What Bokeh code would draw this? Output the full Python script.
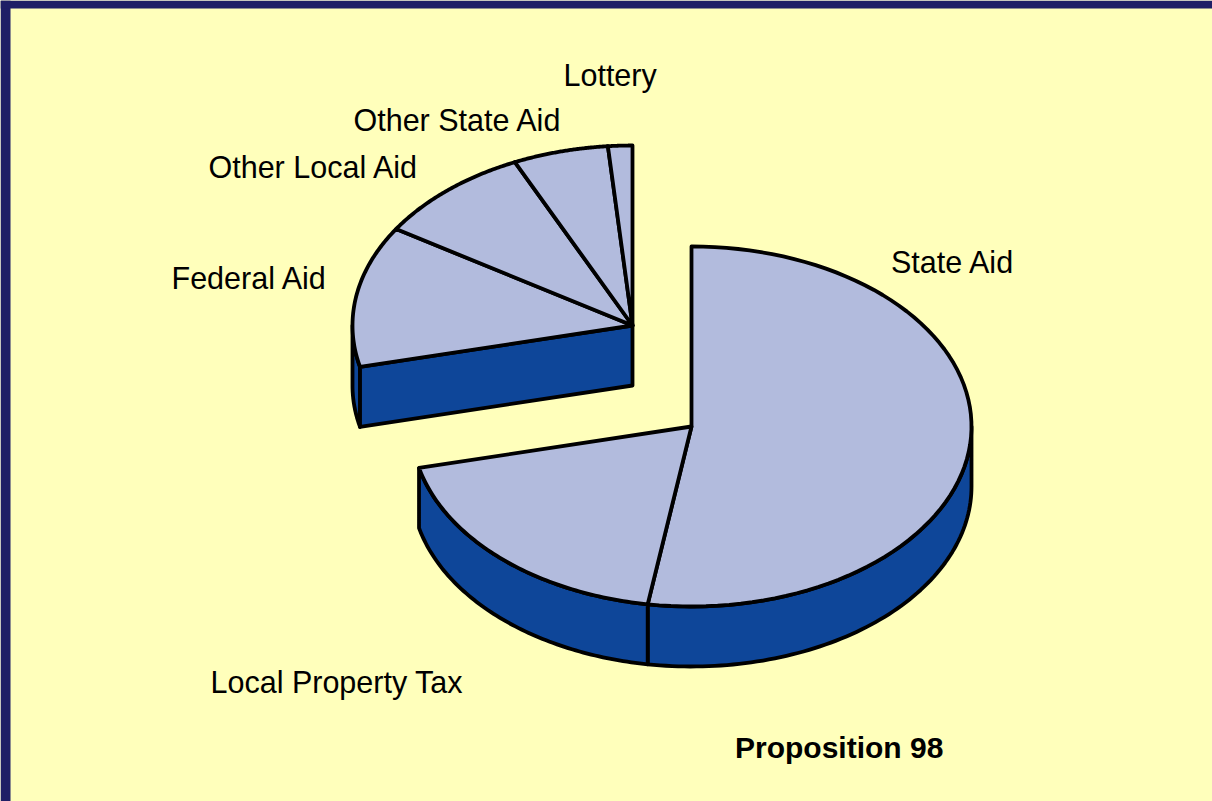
import numpy as np
from bokeh.plotting import figure
from bokeh.embed import file_html
from bokeh.resources import INLINE
from bokeh.models import Range1d
from bokeh.core.properties import value

# Chart data (percent of funding)
categories = ["State Aid", "Local Property Tax", "Federal Aid", "Other Local Aid", "Other State Aid", "Lottery"]
shares = [52.5, 18.8, 12.7, 9.1, 5.5, 1.4]
exploded = [False, False, True, True, True, True]
label_x = [890.5, 210, 171, 208, 353, 563]
label_y = [261, 681, 277, 166, 119, 74]
title = "Proposition 98"

NAVY, YELLOW = "#1F1F66", "#FFFFBB"
TOP, SIDE = "#B2BBDD", "#0E4699"
CX, CY, EX, EY = 691, 426, 632, 325   # centres of main pie and exploded group
RX, RY, DEPTH = 280, 180, 60
LW = 3.8

W, H = 1212, 801
p = figure(width=W, height=H, output_backend="svg", toolbar_location=None,
           x_range=Range1d(0, W), y_range=Range1d(H, 0),
           min_border=0, background_fill_color=YELLOW, border_fill_color=YELLOW,
           outline_line_color=None)
p.axis.visible = False
p.grid.visible = False
p.quad(left=0, right=10, top=0, bottom=H, fill_color=NAVY, line_color=None)
p.quad(left=0, right=W, top=0, bottom=8, fill_color=NAVY, line_color=None)


def rim(cx, cy, a0, a1, n=80):
    t = np.radians(np.linspace(a0, a1, n))
    return cx + RX * np.sin(t), cy - RY * np.cos(t)


def side_patch(cx, cy, a0, a1):
    x, y = rim(cx, cy, a0, a1)
    p.patch(np.r_[x, x[::-1]], np.r_[y, y[::-1] + DEPTH], fill_color=SIDE,
            line_color="black", line_width=LW, line_join="round")


angles = 360 * np.cumsum([0] + shares) / sum(shares)
slices = list(zip(angles[:-1], angles[1:], exploded))

# Extruded sides: only the part of the rim that faces the viewer
for a0, a1, ex in slices:
    cx, cy = (EX, EY) if ex else (CX, CY)
    lo, hi = max(a0, 90), min(a1, 270)
    if lo < hi:
        side_patch(cx, cy, lo, hi)

# Cut face of the exploded group, along its first radius
a_start = min(a0 for a0, _, ex in slices if ex)
sx, sy = rim(EX, EY, a_start, a_start, 1)
p.patch([EX, sx[0], sx[0], EX], [EY, sy[0], sy[0] + DEPTH, EY + DEPTH], fill_color=SIDE,
        line_color="black", line_width=LW, line_join="round")

# Top faces
for a0, a1, ex in slices:
    cx, cy = (EX, EY) if ex else (CX, CY)
    x, y = rim(cx, cy, a0, a1)
    p.patch(np.r_[cx, x], np.r_[cy, y], fill_color=TOP, line_color="black",
            line_width=LW, line_join="round")

font = value("Liberation Sans")
p.text(x=label_x, y=label_y, text=categories, text_font=font, text_font_size="30.5px",
       text_color="black", text_align="left", text_baseline="middle")
p.text(x=[734.5], y=[747], text=[title], text_font=font, text_font_size="30px",
       text_font_style="bold", text_color="black", text_align="left", text_baseline="middle")

open("out.html", "w").write(file_html(p, INLINE))
